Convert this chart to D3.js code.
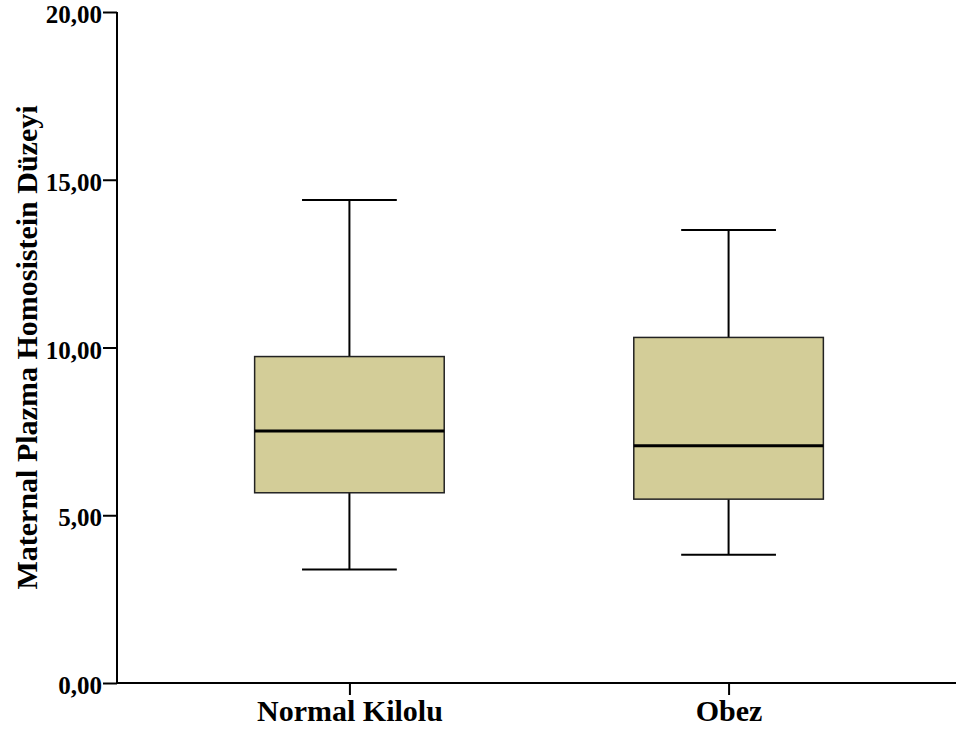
<!DOCTYPE html>
<html>
<head>
<meta charset="utf-8">
<script src="https://cdn.jsdelivr.net/npm/d3@7"></script>
<style>
  body { margin: 0; background: #fff; }
  text { font-family: "Liberation Serif", "Times New Roman", serif; font-weight: bold; fill: #000; }
</style>
</head>
<body>
<div id="main-container"></div>
<script>
// Data
const groups = ['Normal Kilolu', 'Obez'];
const whiskerLow = [3.38, 3.82];
const q1 = [5.67, 5.48];
const median = [7.51, 7.07];
const q3 = [9.73, 10.30];
const whiskerHigh = [14.40, 13.50];
const yTicks = [0, 5, 10, 15, 20];

const Y_TITLE = 'Maternal Plazma Homosistein Düzeyi';
const WIDTH = 956;
const HEIGHT = 736;
const MARGIN = { top: 12, right: -5, bottom: 53, left: 117 };
const BOX_FILL = '#d3cd98';

const boxes = groups.map((g, i) => ({
    group: g,
    lo: whiskerLow[i], q1: q1[i], med: median[i], q3: q3[i], hi: whiskerHigh[i]
}));

const SVG = d3.select('#main-container').append('svg')
    .attr('width', WIDTH)
    .attr('height', HEIGHT);

const x = d3.scalePoint()
    .domain(groups)
    .range([MARGIN.left, WIDTH - MARGIN.right])
    .padding(0.613);

const y = d3.scaleLinear()
    .domain([0, 20])
    .range([HEIGHT - MARGIN.bottom, MARGIN.top]);

const step = x.step();
const boxW = step * 0.5;
const capW = boxW * 0.5;

// Y axis
const yAxis = SVG.append('g')
    .attr('transform', `translate(${MARGIN.left}, 0)`)
    .call(d3.axisLeft(y).tickValues(yTicks).tickSize(14).tickPadding(1)
        .tickFormat(d => d3.format('.2f')(d).replace('.', ',')));
yAxis.select('.domain').attr('stroke-width', 2).attr('d', `M0,${y(0)}V${y(20)}`);
yAxis.selectAll('.tick line').attr('stroke-width', 2);
yAxis.selectAll('.tick text').style('font-size', '25px').attr('dy', '0.42em');

// X axis
const xAxis = SVG.append('g')
    .attr('transform', `translate(0, ${y(0)})`)
    .call(d3.axisBottom(x).tickSize(12).tickPadding(5));
xAxis.select('.domain').attr('stroke-width', 2).attr('d', `M${MARGIN.left},0H${WIDTH}`);
xAxis.selectAll('.tick line').attr('stroke-width', 2);
xAxis.selectAll('.tick text').style('font-size', '30px');

// Y title
SVG.append('text')
    .attr('transform', `translate(${37}, ${(y(0) + y(20)) / 2}) rotate(-90)`)
    .attr('text-anchor', 'middle')
    .style('font-size', '30px')
    .text(Y_TITLE);

// Boxes
const G = SVG.append('g').selectAll('g')
    .data(boxes)
    .enter()
    .append('g');

G.append('line')
    .attr('x1', d => x(d.group)).attr('x2', d => x(d.group))
    .attr('y1', d => y(d.hi)).attr('y2', d => y(d.q3))
    .attr('stroke', '#000').attr('stroke-width', 2);
G.append('line')
    .attr('x1', d => x(d.group)).attr('x2', d => x(d.group))
    .attr('y1', d => y(d.q1)).attr('y2', d => y(d.lo))
    .attr('stroke', '#000').attr('stroke-width', 2);
G.append('line')
    .attr('x1', d => x(d.group) - capW / 2).attr('x2', d => x(d.group) + capW / 2)
    .attr('y1', d => y(d.hi)).attr('y2', d => y(d.hi))
    .attr('stroke', '#000').attr('stroke-width', 2);
G.append('line')
    .attr('x1', d => x(d.group) - capW / 2).attr('x2', d => x(d.group) + capW / 2)
    .attr('y1', d => y(d.lo)).attr('y2', d => y(d.lo))
    .attr('stroke', '#000').attr('stroke-width', 2);

G.append('rect')
    .attr('x', d => x(d.group) - boxW / 2)
    .attr('y', d => y(d.q3))
    .attr('width', boxW)
    .attr('height', d => y(d.q1) - y(d.q3))
    .attr('fill', BOX_FILL)
    .attr('stroke', '#222')
    .attr('stroke-width', 1.5);

G.append('line')
    .attr('x1', d => x(d.group) - boxW / 2).attr('x2', d => x(d.group) + boxW / 2)
    .attr('y1', d => y(d.med)).attr('y2', d => y(d.med))
    .attr('stroke', '#000').attr('stroke-width', 3);
</script>
</body>
</html>
